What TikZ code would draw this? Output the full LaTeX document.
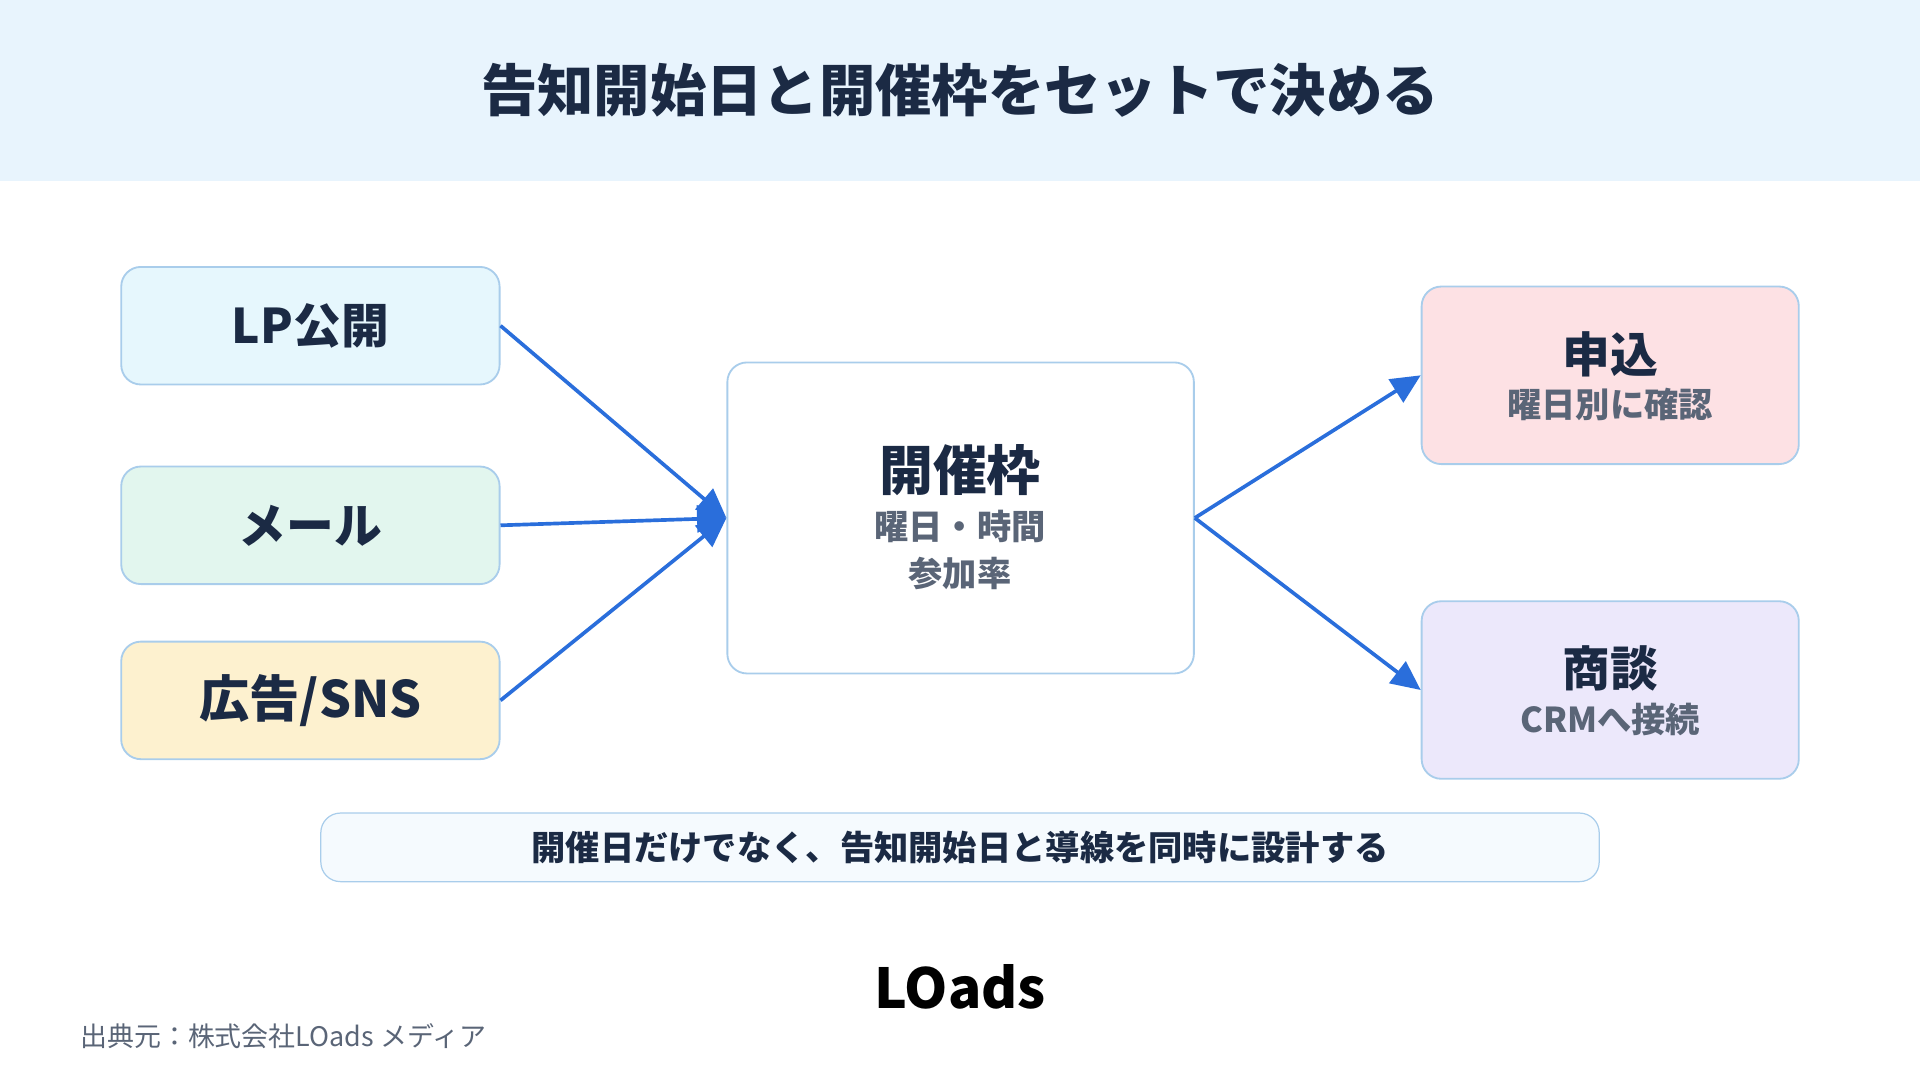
\documentclass[tikz,border=0pt]{standalone}
\usepackage{fontspec}
\setmainfont{Noto Sans CJK JP}
\usetikzlibrary{arrows.meta}
\definecolor{navy}{HTML}{1B2A44}
\definecolor{sub}{HTML}{5A6577}
\definecolor{bord}{HTML}{A9CDEB}
\definecolor{arr}{HTML}{2A6EDB}
\begin{document}
\begin{tikzpicture}[x=1pt,y=-1pt,
 box/.style={draw=bord,line width=1.5pt,rounded corners=16pt,inner sep=0pt},
 ar/.style={draw=arr,line width=3pt,-{Triangle[length=24pt,width=22pt]}},
 big/.style={font=\fontsize{39}{44}\selectfont\bfseries,text=navy},
 small/.style={font=\fontsize{28}{32}\selectfont\bfseries,text=sub}]
\useasboundingbox (0,0) rectangle (1568,882);
\fill[fill={rgb,255:red,232;green,244;blue,253}] (0,0) rectangle (1568,148);
\node[font=\fontsize{46}{52}\selectfont\bfseries,text=navy] (title) at (784,74) {告知開始日と開催枠をセットで決める};
\node[box,fill={rgb,255:red,230;green,247;blue,253},minimum width=309pt,minimum height=96pt] (lp) at (253.5,266) {};
\node[big] at (lp) {LP公開};
\node[box,fill={rgb,255:red,226;green,246;blue,238},minimum width=309pt,minimum height=96pt] (mail) at (253.5,429) {};
\node[big] at (mail) {メール};
\node[box,fill={rgb,255:red,253;green,241;blue,207},minimum width=309pt,minimum height=96pt] (ad) at (253.5,572) {};
\node[big,font=\fontsize{41}{44}\selectfont\bfseries] at (ad) {広告/SNS};
\node[box,fill=white,minimum width=381pt,minimum height=254pt] (c) at (784.5,423) {};
\node[big,font=\fontsize{44}{48}\selectfont\bfseries] at (784,384) {開催枠};
\node[small,align=center,font=\fontsize{28}{38}\selectfont\bfseries] at (784,449) {曜日・時間\\参加率};
\node[box,fill={rgb,255:red,253;green,225;blue,228},minimum width=308pt,minimum height=145pt] (ap) at (1315,306.5) {};
\node[big] at (1315,289) {申込};
\node[small] at (1315,330) {曜日別に確認};
\node[box,fill={rgb,255:red,236;green,232;blue,251},minimum width=308pt,minimum height=145pt] (dl) at (1315,563.5) {};
\node[big] at (1315,546) {商談};
\node[small] at (1315,588) {CRMへ接続};
\draw[ar] (lp.east) -- (c.west);
\draw[ar] (mail.east) -- (c.west);
\draw[ar] (ad.east) -- (c.west);
\draw[ar] (c.east) -- (ap.west);
\draw[ar] (c.east) -- (dl.west);
\node[draw=bord,line width=1pt,rounded corners=16pt,fill={rgb,255:red,245;green,250;blue,254},minimum width=1044pt,minimum height=56pt,font=\fontsize{28}{30}\selectfont\bfseries,text=navy] (note) at (784,692) {開催日だけでなく、告知開始日と導線を同時に設計する};
\node[font=\fontsize{45}{48}\selectfont\bfseries] (logo) at (784,806) {LOads};
\node[anchor=west,font=\fontsize{22}{24}\selectfont,text=sub] (src) at (62,846) {出典元：株式会社LOads メディア};
\end{tikzpicture}
\end{document}
